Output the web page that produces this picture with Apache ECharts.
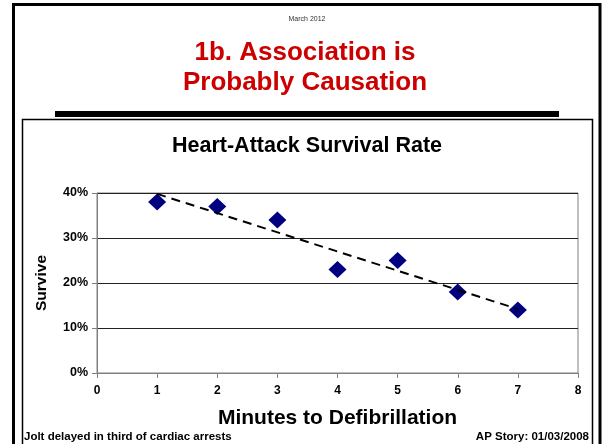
<!DOCTYPE html>
<html>
<head>
<meta charset="utf-8">
<script src="https://cdn.jsdelivr.net/npm/echarts@6/dist/echarts.min.js"></script>
<style>html,body{margin:0;padding:0;background:#fff;}#c{width:602px;height:444px;}</style>
</head>
<body>
<div id="c"></div>
<script>
const minutes = [1, 2, 3, 4, 5, 6, 7];
const survive = [38, 37, 34, 23, 25, 18, 14];
const trendX = [1, 7];
const trendY = [39.8, 14.2];
const yTicks = [0, 10, 20, 30, 40];
const xTicks = [0, 1, 2, 3, 4, 5, 6, 7, 8];

const F = 'Liberation Sans, Arial, sans-serif';
const chart = echarts.init(document.getElementById('c'), null, {renderer: 'canvas'});
chart.setOption({
  animation: false,
  backgroundColor: '#fff',
  grid: {left: 97, right: 24, top: 193, bottom: 71, show: true, borderColor: '#808080', borderWidth: 1},
  xAxis: {
    type: 'value', min: xTicks[0], max: xTicks[xTicks.length - 1], interval: 1,
    name: 'Minutes to Defibrillation', nameLocation: 'middle', nameGap: 35,
    nameTextStyle: {fontFamily: F, fontWeight: 'bold', fontSize: 21, color: '#000'},
    axisLine: {lineStyle: {color: '#808080', width: 1}},
    axisTick: {show: true, inside: false, length: 5, lineStyle: {color: '#808080'}},
    axisLabel: {fontFamily: F, fontWeight: 'bold', fontSize: 12, color: '#000', margin: 12},
    splitLine: {show: false}
  },
  yAxis: {
    type: 'value', min: yTicks[0], max: yTicks[yTicks.length - 1], interval: 10,
    name: 'Survive', nameLocation: 'middle', nameGap: 47,
    nameTextStyle: {fontFamily: F, fontWeight: 'bold', fontSize: 15.5, color: '#000'},
    axisLine: {show: true, lineStyle: {color: '#808080', width: 1}},
    axisTick: {show: true, inside: false, length: 5, lineStyle: {color: '#808080'}},
    axisLabel: {fontFamily: F, fontWeight: 'bold', fontSize: 12.5, color: '#000', margin: 9, formatter: '{value}%'},
    splitLine: {show: true, lineStyle: {color: '#222', width: 1}}
  },
  series: [
    {
      type: 'line', data: trendX.map((x, i) => [x, trendY[i]]), symbol: 'none', z: 3,
      lineStyle: {color: '#000', width: 2, type: [9, 6]}
    },
    {
      type: 'scatter', data: minutes.map((x, i) => [x, survive[i]]), symbol: 'diamond', symbolSize: [18, 17], z: 2,
      itemStyle: {color: '#000080', opacity: 1}
    }
  ],
  graphic: [
    {type: 'rect', shape: {x: 13.5, y: 4.5, width: 586.5, height: 480}, style: {fill: null, stroke: '#000', lineWidth: 3}, silent: true},
    {type: 'rect', shape: {x: 22.5, y: 119.5, width: 570, height: 400}, style: {fill: null, stroke: '#000', lineWidth: 1.5}, silent: true},
    {type: 'rect', shape: {x: 55, y: 111, width: 504, height: 6}, style: {fill: '#000'}, silent: true},
    {type: 'text', x: 307, y: 19, style: {text: 'March 2012', font: '7px ' + F, fill: '#333', align: 'center', verticalAlign: 'middle'}},
    {type: 'text', x: 305, y: 53, style: {text: '1b. Association is', font: 'bold 26px ' + F, fill: '#cc0000', align: 'center', verticalAlign: 'middle'}},
    {type: 'text', x: 305, y: 83, style: {text: 'Probably Causation', font: 'bold 26px ' + F, fill: '#cc0000', align: 'center', verticalAlign: 'middle'}},
    {type: 'text', x: 307, y: 146, style: {text: 'Heart-Attack Survival Rate', font: 'bold 21.5px ' + F, fill: '#000', align: 'center', verticalAlign: 'middle'}},
    {type: 'text', x: 24, y: 437, style: {text: 'Jolt delayed in third of cardiac arrests', font: 'bold 11.5px ' + F, fill: '#000', align: 'left', verticalAlign: 'middle'}},
    {type: 'text', x: 589, y: 437, style: {text: 'AP Story: 01/03/2008', font: 'bold 11.5px ' + F, fill: '#000', align: 'right', verticalAlign: 'middle'}}
  ]
});
</script>
</body>
</html>
